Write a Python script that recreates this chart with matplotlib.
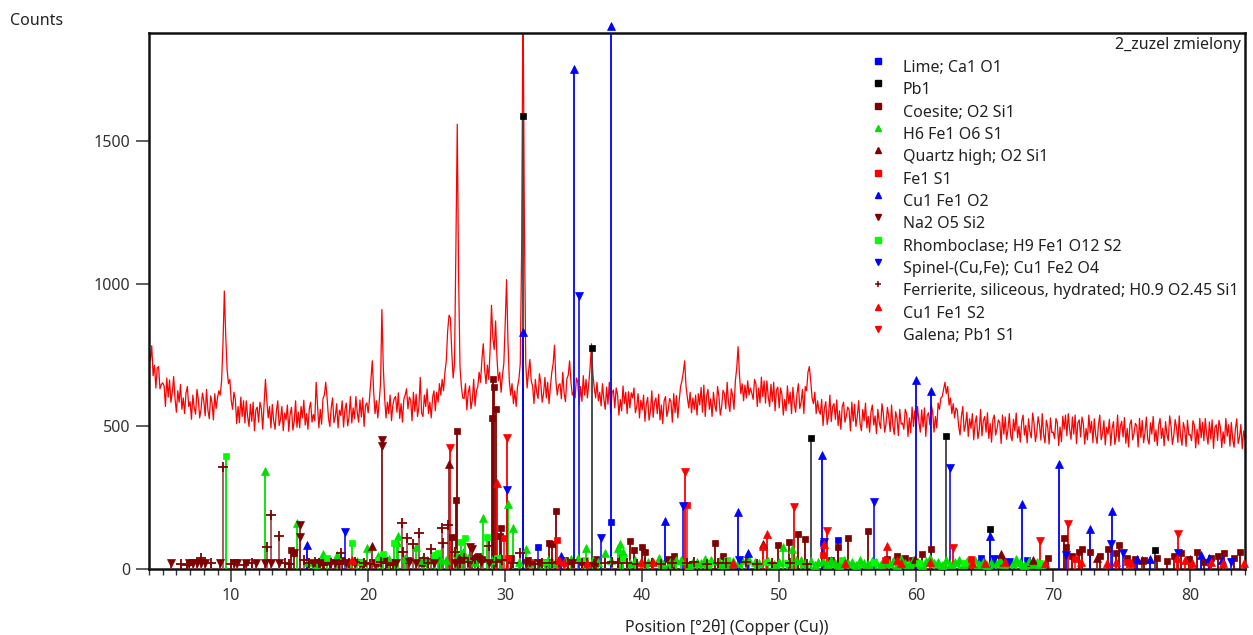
import numpy as np
import matplotlib
matplotlib.use('Agg')
import matplotlib.pyplot as plt
from matplotlib.lines import Line2D
from matplotlib.ticker import MultipleLocator

plt.rcParams['font.family'] = ['Noto Sans', 'DejaVu Sans']

W, H = 1253, 635

# measured scan, 0.1 deg step starting at 4 deg 2theta
scan_start = 4.0
scan_step = 0.1
counts = [
    775, 730, 783, 678, 715, 635, 705, 710, 632, 647,
    653, 643, 570, 670, 603, 663, 585, 620, 675, 597,
    550, 625, 585, 647, 560, 600, 545, 617, 640, 570,
    587, 525, 610, 565, 543, 630, 595, 530, 560, 617,
    590, 537, 630, 557, 527, 607, 583, 523, 615, 563,
    600, 625, 610, 660, 790, 975, 820, 700, 650, 665,
    592, 560, 620, 595, 510, 570, 513, 603, 535, 590,
    512, 590, 535, 500, 578, 518, 585, 485, 558, 568,
    515, 585, 562, 490, 580, 665, 592, 530, 570, 495,
    577, 520, 490, 555, 590, 503, 525, 570, 485, 547,
    523, 575, 483, 543, 567, 487, 517, 590, 497, 550,
    495, 570, 530, 592, 505, 545, 490, 562, 585, 515,
    542, 520, 655, 575, 495, 560, 508, 598, 610, 655,
    600, 530, 500, 565, 600, 513, 535, 580, 495, 557,
    538, 590, 498, 558, 582, 502, 532, 605, 512, 565,
    527, 605, 550, 515, 593, 533, 600, 500, 573, 583,
    548, 600, 665, 730, 620, 545, 590, 530, 585, 650,
    910, 710, 600, 530, 585, 545, 610, 520, 575, 598,
    605, 550, 618, 528, 580, 515, 595, 610, 632, 562,
    603, 593, 520, 620, 553, 613, 535, 570, 672, 547,
    535, 610, 570, 632, 545, 585, 530, 602, 625, 555,
    620, 585, 650, 610, 665, 625, 690, 730, 835, 890,
    880, 760, 670, 720, 1120, 1560, 1020, 710, 640, 600,
    598, 650, 558, 618, 642, 562, 592, 665, 572, 625,
    640, 690, 655, 735, 790, 700, 650, 715, 665, 770,
    925, 810, 770, 870, 740, 660, 690, 620, 680, 720,
    860, 1015, 800, 660, 610, 650, 580, 625, 570, 640,
    665, 720, 1120, 2050, 1220, 720, 635, 690, 735, 660,
    642, 580, 665, 620, 598, 685, 650, 585, 615, 672,
    600, 655, 580, 640, 690, 720, 785, 660, 610, 645,
    650, 597, 690, 617, 587, 667, 680, 730, 655, 610,
    622, 600, 670, 655, 575, 640, 588, 678, 610, 665,
    600, 650, 710, 790, 685, 635, 600, 655, 590, 620,
    572, 650, 595, 560, 638, 578, 655, 545, 618, 628,
    565, 635, 612, 540, 595, 555, 642, 580, 620, 545,
    622, 565, 618, 600, 635, 548, 570, 615, 530, 592,
    558, 610, 518, 578, 602, 522, 552, 625, 532, 585,
    600, 545, 613, 523, 575, 510, 590, 605, 535, 557,
    598, 588, 515, 615, 548, 608, 530, 590, 640, 660,
    690, 730, 640, 600, 565, 620, 548, 600, 560, 610,
    540, 615, 575, 637, 550, 645, 535, 607, 630, 560,
    597, 535, 620, 575, 553, 640, 605, 540, 570, 627,
    615, 562, 655, 582, 552, 632, 608, 560, 660, 705,
    780, 680, 615, 650, 590, 645, 600, 660, 610, 635,
    617, 595, 665, 650, 570, 635, 583, 673, 605, 660,
    582, 660, 605, 570, 648, 588, 655, 555, 628, 638,
    565, 635, 612, 540, 595, 555, 642, 580, 620, 545,
    637, 580, 550, 615, 650, 563, 585, 630, 545, 640,
    625, 690, 710, 660, 600, 580, 620, 545, 590, 555,
    543, 595, 503, 563, 587, 507, 537, 610, 517, 570,
    580, 525, 593, 503, 555, 490, 570, 585, 515, 537,
    568, 558, 485, 585, 518, 578, 500, 535, 590, 512,
    485, 560, 520, 582, 495, 535, 480, 552, 575, 505,
    537, 475, 560, 515, 493, 580, 545, 480, 510, 567,
    535, 482, 575, 502, 472, 552, 528, 468, 560, 508,
    512, 490, 560, 545, 465, 530, 478, 568, 500, 555,
    492, 570, 515, 480, 558, 498, 565, 465, 538, 548,
    505, 575, 552, 480, 535, 495, 582, 560, 600, 605,
    630, 655, 615, 640, 575, 600, 545, 580, 530, 565,
    557, 500, 470, 535, 570, 483, 505, 550, 465, 527,
    493, 545, 453, 513, 537, 457, 487, 560, 467, 520,
    535, 480, 548, 458, 510, 445, 525, 540, 470, 492,
    523, 513, 440, 540, 473, 533, 455, 490, 545, 467,
    450, 525, 485, 547, 460, 500, 445, 517, 540, 470,
    504, 442, 527, 482, 460, 547, 512, 447, 477, 534,
    505, 452, 545, 472, 442, 522, 498, 438, 530, 478,
    480, 458, 528, 513, 433, 498, 446, 536, 490, 540,
    467, 545, 490, 455, 533, 473, 540, 440, 513, 523,
    463, 533, 510, 438, 493, 453, 540, 478, 518, 443,
    527, 470, 440, 505, 540, 453, 475, 520, 435, 497,
    473, 525, 433, 493, 517, 437, 467, 540, 447, 500,
    518, 463, 531, 441, 493, 428, 508, 523, 453, 475,
    511, 501, 428, 528, 461, 521, 443, 478, 533, 455,
    438, 513, 473, 535, 448, 488, 433, 505, 528, 458,
    494, 432, 517, 472, 450, 537, 502, 437, 467, 524,
    497, 444, 537, 464, 434, 514, 490, 430, 522, 470,
    472, 450, 520, 505, 425, 490, 438, 528, 460, 515,
    450, 528, 473, 438, 516, 456, 523, 423, 496, 506,
    451, 521, 498, 426, 481, 441, 528, 466, 506, 431,
    514, 457, 427, 492, 527, 440, 462, 507, 422, 484,
    455,
]

# reference patterns: (position 2theta, counts)
lime = [(32.4, 77), (37.7, 165), (53.2, 91), (54.3, 102), (64.7, 38), (68.1, 30)]

pb = [(31.3, 1590), (36.3, 775), (52.3, 458), (62.2, 468), (65.4, 142), (77.4, 65)]

coesite = [(14.4, 67), (14.6, 55), (16.8, 25), (18.1, 30), (19.0, 25), (19.6, 20),
           (20.6, 22), (21.3, 30), (21.6, 25), (22.9, 30), (23.9, 20), (24.4, 28),
           (25.2, 35), (26.1, 113), (26.4, 242), (26.5, 485), (26.9, 35), (27.4, 30),
           (27.8, 40), (28.0, 45), (28.3, 35), (29.0, 530), (29.1, 665), (29.2, 640),
           (29.3, 560), (29.6, 116), (29.7, 143), (30.4, 40), (31.7, 30), (32.7, 25),
           (33.2, 91), (33.4, 88), (33.7, 205), (34.4, 30), (35.6, 25), (36.6, 35),
           (38.5, 40), (39.1, 99), (39.4, 67), (40.0, 78), (40.2, 61), (41.9, 35),
           (42.3, 45), (45.3, 92), (45.9, 46), (49.9, 84), (50.7, 96), (51.4, 123),
           (51.9, 105), (53.8, 30), (54.3, 77), (55.0, 108), (56.5, 133), (57.9, 35),
           (58.6, 45), (59.2, 40), (59.7, 30), (60.4, 52), (61.1, 69), (63.9, 25),
           (66.2, 30), (68.3, 22), (69.6, 40), (70.8, 110), (70.9, 78), (71.4, 45),
           (71.9, 60), (72.1, 70), (72.7, 60), (73.4, 45), (74.0, 70), (74.6, 56),
           (74.8, 84), (75.4, 40), (76.0, 35), (76.6, 30), (77.6, 40), (78.3, 28),
           (78.8, 45), (79.3, 56), (79.9, 35), (80.5, 60), (81.0, 25), (81.5, 38),
           (82.0, 45), (82.5, 56), (83.2, 40), (83.6, 60)]

h6feo6s = [(12.5, 344), (14.8, 162), (15.6, 25), (16.2, 18), (16.7, 53), (17.2, 30),
           (17.7, 49), (18.5, 22), (19.2, 28), (19.9, 73), (20.7, 45), (21.5, 35),
           (22.1, 95), (22.2, 114), (22.7, 40), (23.5, 78), (23.9, 30), (24.3, 30),
           (24.8, 45), (25.3, 35), (25.7, 30), (26.4, 55), (26.9, 60), (27.3, 38),
           (27.8, 25), (28.4, 178), (29.0, 30), (29.6, 40), (30.2, 228), (30.6, 143),
           (31.0, 25), (31.5, 70), (31.9, 20), (32.6, 25), (33.1, 30), (33.5, 22),
           (34.4, 28), (34.8, 35), (35.3, 40), (35.9, 73), (36.4, 30), (36.8, 25),
           (37.3, 56), (37.7, 30), (38.2, 75), (38.4, 88), (38.6, 60), (39.1, 22),
           (39.5, 30), (40.1, 20), (40.4, 25), (40.7, 28), (41.2, 40), (41.5, 18),
           (42.0, 25), (42.5, 30), (42.8, 32), (43.4, 15), (43.6, 22), (44.0, 26),
           (44.3, 20), (44.6, 35), (45.0, 30), (45.6, 28), (45.8, 18), (46.3, 22),
           (46.6, 27), (47.0, 20), (47.3, 30), (47.8, 33), (48.2, 25), (48.5, 22),
           (49.2, 28), (49.6, 18), (50.0, 24), (50.3, 78), (50.9, 70), (51.2, 32),
           (51.6, 30), (51.9, 20), (52.3, 27), (52.6, 15), (52.8, 25), (53.2, 28),
           (53.5, 18), (53.8, 32), (54.1, 22), (54.4, 15), (54.7, 30), (55.0, 20),
           (55.3, 26), (55.6, 14), (55.9, 33), (56.2, 21), (56.5, 17), (56.8, 29),
           (57.1, 24), (57.4, 16), (57.7, 31), (58.0, 20), (58.3, 27), (58.6, 13),
           (58.9, 35), (59.2, 22), (59.5, 18), (59.8, 30), (60.1, 25), (60.4, 15),
           (60.7, 28), (61.0, 38), (61.3, 20), (61.6, 26), (61.9, 14), (62.2, 32),
           (62.5, 19), (62.8, 24), (63.1, 30), (63.4, 16), (63.7, 27), (64.0, 21),
           (64.3, 33), (64.6, 18), (64.9, 25), (65.2, 14), (65.5, 29), (65.8, 22),
           (66.1, 31), (66.4, 17), (66.7, 26), (67.0, 20), (67.3, 34), (67.6, 23),
           (67.9, 15), (68.2, 28), (68.5, 19), (68.8, 24), (69.1, 16)]

quartz_high = [(20.3, 82), (25.9, 368), (26.6, 40), (36.5, 25), (48.8, 88), (59.9, 35),
               (66.2, 52), (68.5, 30), (73.2, 40), (76.5, 30), (80.0, 35)]

fe1s1 = [(29.9, 108), (30.2, 40), (31.8, 25), (33.8, 102), (43.3, 224), (53.2, 50),
         (57.7, 30), (64.0, 35), (71.6, 35), (75.4, 25)]

cufeo2 = [(15.5, 84), (31.3, 830), (34.1, 47), (35.0, 1754), (37.7, 1905), (41.7, 168),
          (47.0, 201), (47.7, 57), (53.1, 400), (60.0, 663), (61.1, 625), (65.4, 115),
          (67.7, 228), (70.4, 368), (72.7, 140), (74.3, 204), (76.1, 35), (77.1, 35),
          (80.8, 48), (81.4, 40), (82.3, 30)]

na2o5si2 = [(5.6, 20), (6.9, 20), (7.2, 20), (7.5, 20), (7.8, 20), (8.1, 20), (9.2, 20),
            (10.2, 20), (10.4, 20), (11.1, 20), (11.8, 20), (12.5, 20), (12.9, 20),
            (13.5, 20), (14.6, 56), (15.0, 154), (15.05, 112), (16.0, 20), (16.5, 20),
            (17.2, 18), (17.6, 20), (18.4, 20), (19.0, 22), (19.4, 20), (20.5, 20),
            (21.0, 453), (21.02, 433), (22.0, 20), (23.0, 25), (23.5, 20), (24.8, 20),
            (26.3, 22), (27.4, 78), (27.6, 70), (28.2, 25), (28.8, 20), (31.5, 20),
            (32.5, 20), (33.0, 20), (34.9, 20)]

rhomboclase = [(9.6, 396), (17.0, 40), (18.8, 92), (19.5, 25), (20.7, 30), (21.1, 53),
               (21.9, 92), (24.9, 50), (25.1, 56), (26.8, 94), (27.1, 108), (28.7, 112),
               (29.4, 40), (32.9, 25), (35.8, 30), (38.6, 35), (44.9, 22), (46.2, 30),
               (49.0, 25), (50.6, 20), (54.6, 30), (56.9, 25), (60.2, 22), (63.5, 20),
               (66.7, 22), (69.0, 20)]

spinel = [(18.3, 131), (30.1, 277), (35.4, 958), (37.0, 110), (43.0, 221), (47.1, 30),
          (53.3, 94), (56.9, 235), (62.5, 355), (65.7, 35), (66.8, 25), (70.9, 48),
          (74.2, 88), (75.1, 56), (79.1, 56), (83.0, 25)]

ferrierite = [(6.3, 18), (6.8, 15), (7.8, 40), (8.5, 20), (9.4, 359), (10.0, 18),
              (10.9, 15), (11.5, 20), (12.6, 78), (12.9, 189), (13.5, 117), (13.9, 22),
              (14.2, 18), (15.3, 30), (15.7, 20), (16.1, 25), (16.4, 20), (16.7, 15),
              (17.3, 22), (17.9, 18), (18.0, 56), (18.6, 20), (19.0, 25), (19.7, 22),
              (20.1, 18), (20.9, 25), (21.4, 20), (21.8, 15), (22.5, 161), (22.55, 60),
              (22.8, 110), (23.3, 88), (23.7, 128), (24.1, 40), (24.4, 22), (24.6, 70),
              (25.4, 143), (25.45, 92), (25.8, 154), (26.3, 60), (26.7, 20), (27.0, 40),
              (27.3, 25), (27.8, 35), (28.3, 30), (28.8, 82), (29.3, 25), (29.8, 30),
              (30.6, 22), (31.1, 56), (31.8, 25), (32.2, 18), (32.7, 20), (33.4, 22),
              (33.9, 25), (34.6, 18), (35.0, 20), (35.6, 22), (36.0, 20), (36.5, 18),
              (37.3, 22), (37.8, 25), (38.2, 20), (38.9, 20), (39.6, 18), (40.2, 20),
              (40.7, 22), (41.4, 18), (42.2, 20), (43.3, 20), (43.8, 25), (44.7, 18),
              (45.5, 20), (46.1, 22), (47.6, 25), (48.4, 18), (49.5, 20), (50.8, 20),
              (52.0, 18)]

cufes2 = [(18.8, 33), (29.4, 301), (33.9, 30), (34.3, 25), (36.0, 20), (39.9, 25),
          (40.8, 25), (46.6, 20), (48.8, 82), (49.1, 123), (53.3, 88), (54.8, 20),
          (57.9, 82), (58.6, 33), (58.9, 20), (61.0, 25), (64.1, 20), (65.0, 22),
          (66.5, 25), (69.4, 20), (72.0, 25), (73.9, 20), (74.6, 25), (75.7, 20),
          (79.0, 40), (79.6, 30), (80.1, 22), (81.5, 25), (82.4, 22), (83.9, 22)]

galena = [(26.0, 424), (30.1, 459), (43.1, 341), (51.1, 219), (53.5, 133), (62.7, 72),
          (69.0, 99), (71.1, 158), (79.1, 123)]

# label, data, marker, marker colour, stick colour
phases = [
    ('Lime; Ca1 O1', lime, 's', '#0000ff', '#3030ff'),
    ('Pb1', pb, 's', '#000000', '#404040'),
    ('Coesite; O2 Si1', coesite, 's', '#800000', '#800000'),
    ('H6 Fe1 O6 S1', h6feo6s, '^', '#00e000', '#00e000'),
    ('Quartz high; O2 Si1', quartz_high, '^', '#800000', '#8c2a2a'),
    ('Fe1 S1', fe1s1, 's', '#ff0000', '#ff3030'),
    ('Cu1 Fe1 O2', cufeo2, '^', '#0000ff', '#0000ff'),
    ('Na2 O5 Si2', na2o5si2, 'v', '#800000', '#8c2a2a'),
    ('Rhomboclase; H9 Fe1 O12 S2', rhomboclase, 's', '#00ff00', '#00e000'),
    ('Spinel-(Cu,Fe); Cu1 Fe2 O4', spinel, 'v', '#0000ff', '#2020ff'),
    ('Ferrierite, siliceous, hydrated; H0.9 O2.45 Si1', ferrierite, '+', '#800000', '#a05050'),
    ('Cu1 Fe1 S2', cufes2, '^', '#ff0000', '#ff0000'),
    ('Galena; Pb1 S1', galena, 'v', '#ff0000', '#ff0000'),
]

fs = 11.5

fig = plt.figure(figsize=(W / 100, H / 100), dpi=100, facecolor='w')
ax = fig.add_axes([149 / W, 1 - 569 / H, (1245 - 149) / W, (569 - 33) / H])

x = scan_start + scan_step * np.arange(len(counts))
ax.plot(x, counts, color='#ff0000', lw=0.9, zorder=2)

for label, data, mk, mc, lc in phases:
    pos = [p for p, h in data]
    hgt = [h for p, h in data]
    ax.vlines(pos, 0, hgt, colors=lc, lw=1.3, zorder=3)
    if mk == '+':
        ax.plot(pos, hgt, ls='none', marker=mk, ms=6.5, mew=1.3, color=mc,
                zorder=4, clip_on=False)
    else:
        ax.plot(pos, hgt, ls='none', marker=mk, ms=5.5 if mk != 's' else 5,
                mew=0.5, color=mc, zorder=4, clip_on=False)

ax.set_xlim(4, 84)
ax.set_ylim(0, 1880)
ax.set_xticks(range(10, 81, 10))
ax.xaxis.set_minor_locator(MultipleLocator(1))
ax.set_yticks([0, 500, 1000, 1500])
ax.tick_params(axis='both', which='major', direction='out', length=9.5, width=1.1,
               labelsize=fs, colors='#333333', labelcolor='#333333', pad=4)
ax.tick_params(axis='x', which='minor', direction='out', length=4.5, width=1.0,
               colors='#333333')
for s in ax.spines.values():
    s.set_linewidth(1.8)
    s.set_color('#111111')

# legend drawn as a plain list at the upper right
for i, (label, data, mk, mc, lc) in enumerate(phases):
    ty = 68 + 22.33 * i
    if mk == '+':
        fig.add_artist(Line2D([878 / W], [1 - (ty - 7) / H], marker=mk, color=mc,
                              ms=5, mew=1.1, ls='none'))
    else:
        fig.add_artist(Line2D([878 / W], [1 - (ty - 7) / H], marker=mk, color=mc,
                              ms=4.2, ls='none'))
    fig.text(903 / W, 1 - ty / H, label, fontsize=fs, va='center', ha='left',
             color='#222222')

fig.text(1241 / W, 1 - 45 / H, '2_zuzel zmielony', fontsize=fs, va='center',
         ha='right', color='#222222')
fig.text(10 / W, 1 - 21 / H, 'Counts', fontsize=fs, va='center', ha='left',
         color='#222222')
fig.text(727 / W, 1 - 627 / H, 'Position [°2θ] (Copper (Cu))', fontsize=fs,
         va='center', ha='center', color='#222222')

fig.savefig('out.png', dpi=100, facecolor='w')
